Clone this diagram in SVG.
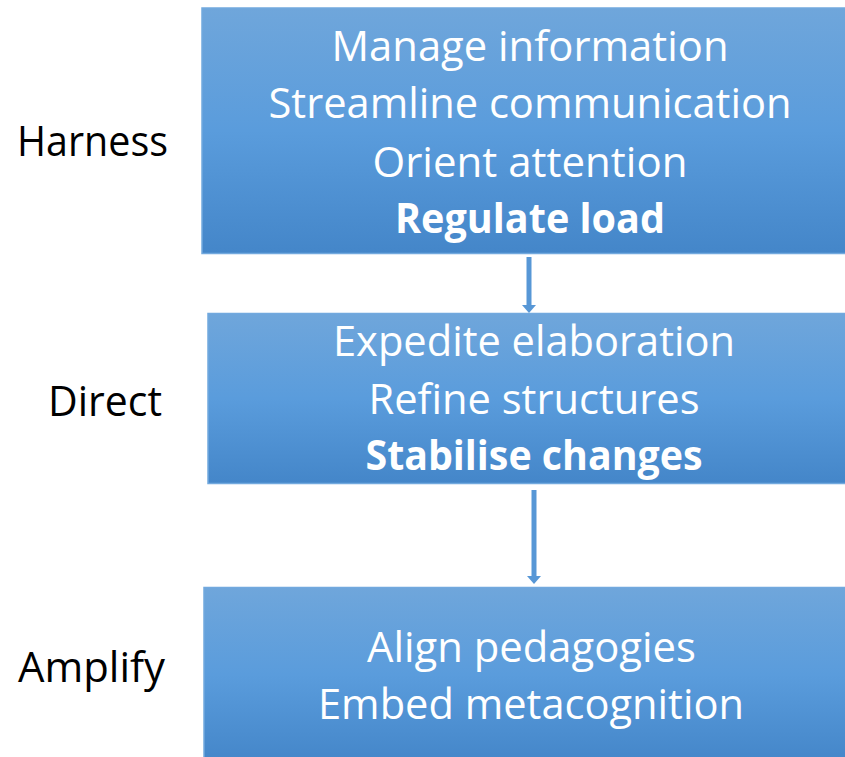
<svg xmlns="http://www.w3.org/2000/svg" width="845" height="757" viewBox="0 0 845 757">
  <style>
    .box { fill: url(#boxFill); stroke: #72a9de; stroke-width: 1.5; }
    .inner { font-family: "Open Sans", "Liberation Sans", sans-serif; font-size: 42px; fill: #ffffff; text-anchor: middle; }
    .strong { font-weight: 700; }
    .stage { font-family: "Open Sans", "Liberation Sans", sans-serif; font-size: 42px; fill: #000000; }
    .link { stroke: #5797d6; stroke-width: 5; fill: none; marker-end: url(#head); }
  </style>
  <defs>
    <linearGradient id="boxFill" x1="0" y1="0" x2="0" y2="1">
      <stop offset="0" stop-color="#6fa6db"/>
      <stop offset="0.5" stop-color="#5a9cdc"/>
      <stop offset="1" stop-color="#4486c9"/>
    </linearGradient>
    <marker id="head" viewBox="0 -7 8 14" refX="0" refY="0" markerUnits="userSpaceOnUse" markerWidth="8" markerHeight="14" orient="auto">
      <path d="M0,-7 L8,0 L0,7 z" fill="#5797d6"/>
    </marker>
  </defs>

  <!-- stage names -->
  <g id="labels">
    <text class="stage" x="17" y="156" textLength="151" lengthAdjust="spacingAndGlyphs">Harness</text>
    <text class="stage" x="48" y="416" textLength="114" lengthAdjust="spacingAndGlyphs">Direct</text>
    <text class="stage" x="18" y="682" textLength="147" lengthAdjust="spacingAndGlyphs">Amplify</text>
  </g>

  <!-- stage 1 -->
  <g id="harness">
    <rect class="box" x="202" y="8" width="656" height="245.5"/>
    <text class="inner" x="530" y="61" textLength="397" lengthAdjust="spacingAndGlyphs">Manage information</text>
    <text class="inner" x="530" y="118" textLength="523" lengthAdjust="spacingAndGlyphs">Streamline communication</text>
    <text class="inner" x="530" y="177" textLength="315" lengthAdjust="spacingAndGlyphs">Orient attention</text>
    <text class="inner strong" x="530" y="233" textLength="270" lengthAdjust="spacingAndGlyphs">Regulate load</text>
  </g>

  <!-- stage 2 -->
  <g id="direct">
    <rect class="box" x="208" y="313.5" width="652" height="170"/>
    <text class="inner" x="534" y="356" textLength="402" lengthAdjust="spacingAndGlyphs">Expedite elaboration</text>
    <text class="inner" x="534" y="414" textLength="331" lengthAdjust="spacingAndGlyphs">Refine structures</text>
    <text class="inner strong" x="534" y="470" textLength="337" lengthAdjust="spacingAndGlyphs">Stabilise changes</text>
  </g>

  <!-- stage 3 -->
  <g id="amplify">
    <rect class="box" x="204" y="587.5" width="654" height="175"/>
    <text class="inner" x="531.5" y="662" textLength="329" lengthAdjust="spacingAndGlyphs">Align pedagogies</text>
    <text class="inner" x="531" y="719" textLength="426" lengthAdjust="spacingAndGlyphs">Embed metacognition</text>
  </g>

  <!-- flow arrows -->
  <g id="connectors">
    <line class="link" x1="529" y1="257" x2="529" y2="305"/>
    <line class="link" x1="534" y1="490" x2="534" y2="576"/>
  </g>
</svg>
